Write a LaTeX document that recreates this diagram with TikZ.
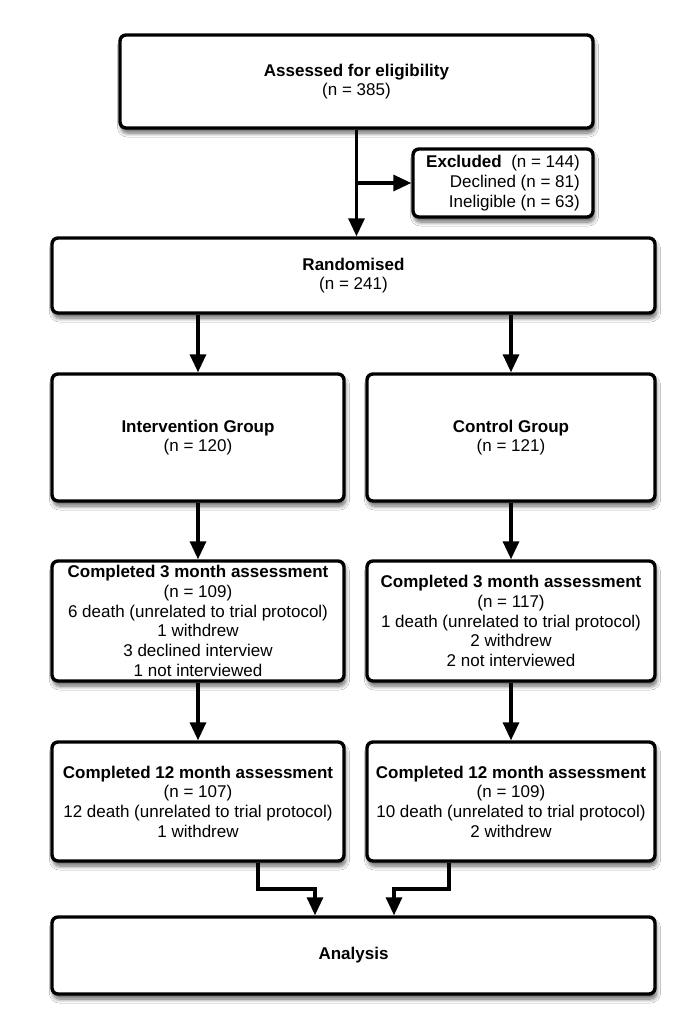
\documentclass[tikz,border=0pt]{standalone}
\usepackage{fontspec}
\setmainfont{Liberation Sans}
\usetikzlibrary{arrows.meta,shadows.blur}
\tikzset{
  box/.style={draw=black, line width=3.4pt, rounded corners=6pt, fill=white,
    align=center, inner sep=0pt,
    blur shadow={shadow xshift=1.5pt, shadow yshift=-5pt, shadow blur steps=8,
      shadow blur radius=4pt, shadow opacity=60},
    font=\fontsize{17}{19.7}\selectfont},
  arr/.style={line width=3.2pt, -{Triangle[length=18pt,width=16pt]}},
}
\begin{document}
\begin{tikzpicture}[x=1pt,y=-1pt]
\useasboundingbox[fill=white] (0,0) rectangle (685,1029);
% nodes
\node[box, minimum width=473pt, minimum height=93pt] (top) at (356.5,81.5)
  {\textbf{Assessed for eligibility}\\(n = 385)};
\node[box, minimum width=180pt, minimum height=68pt, align=right] (excl) at (503,183)
  {\textbf{Excluded}\ \ (n = 144)\hspace{10pt}\\Declined (n = 81)\\Ineligible (n = 63)};
\node[box, minimum width=603pt, minimum height=75pt] (rand) at (353.5,275.5)
  {\textbf{Randomised}\\(n = 241)};
\node[box, minimum width=292pt, minimum height=127pt] (int) at (198,437.5)
  {\textbf{Intervention Group}\\(n = 120)};
\node[box, minimum width=288pt, minimum height=127pt] (ctrl) at (511,437.5)
  {\textbf{Control Group}\\(n = 121)};
\node[box, minimum width=292pt, minimum height=120pt] (m3l) at (198,621)
  {\textbf{Completed 3 month assessment}\\(n = 109)\\6 death (unrelated to trial protocol)\\1 withdrew\\3 declined interview\\1 not interviewed};
\node[box, minimum width=288pt, minimum height=120pt] (m3r) at (511,621)
  {\textbf{Completed 3 month assessment}\\(n = 117)\\1 death (unrelated to trial protocol)\\2 withdrew\\2 not interviewed};
\node[box, minimum width=292pt, minimum height=119pt] (m12l) at (198,801.5)
  {\textbf{Completed 12 month assessment}\\(n = 107)\\12 death (unrelated to trial protocol)\\1 withdrew};
\node[box, minimum width=288pt, minimum height=119pt] (m12r) at (511,801.5)
  {\textbf{Completed 12 month assessment}\\(n = 109)\\10 death (unrelated to trial protocol)\\2 withdrew};
\node[box, minimum width=603pt, minimum height=77pt] (ana) at (353.5,955.5)
  {\textbf{Analysis}};
% connectors
\draw[arr] (top.south) -- (top.south |- rand.north);
\draw[arr] (top.south |- excl.west) -- (excl.west);
\draw[arr] (rand.south -| int.north) -- (int.north);
\draw[arr] (rand.south -| ctrl.north) -- (ctrl.north);
\draw[arr] (int.south) -- (m3l.north);
\draw[arr] (ctrl.south) -- (m3r.north);
\draw[arr] (m3l.south) -- (m12l.north);
\draw[arr] (m3r.south) -- (m12r.north);
\coordinate (bl) at (258,889);
\coordinate (blt) at (315,889);
\coordinate (br) at (449,889);
\coordinate (brt) at (394,889);
\draw[arr] (bl |- m12l.south) -- (bl) -- (blt) -- (blt |- ana.north);
\draw[arr] (br |- m12r.south) -- (br) -- (brt) -- (brt |- ana.north);
\end{tikzpicture}
\end{document}
